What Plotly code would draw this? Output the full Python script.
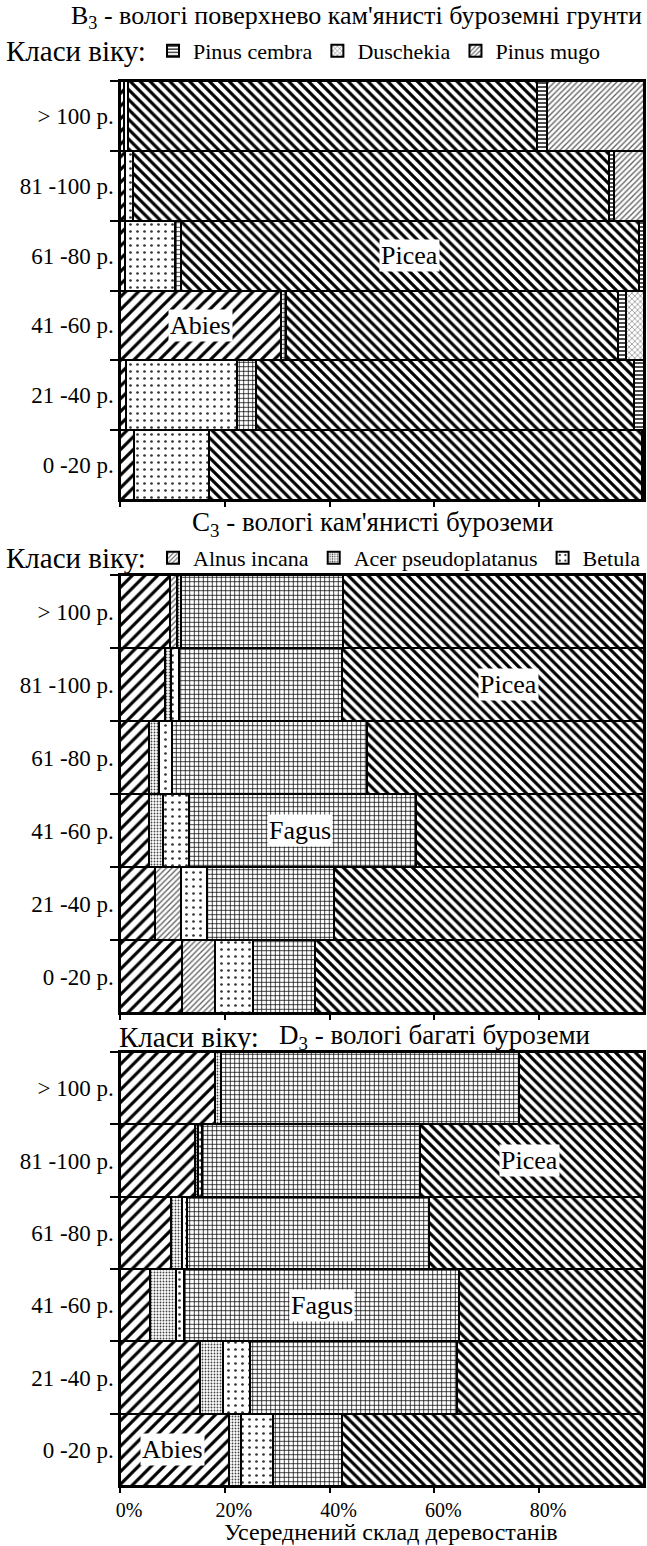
import plotly.graph_objects as go

# ---------------- data ----------------
age_classes = ["> 100 р.", "81 -100 р.", "61 -80 р.", "41 -60 р.", "21 -40 р.", "0 -20 р."]
species = ["Abies", "Alnus incana", "Acer pseudoplatanus", "Betula", "Fagus",
           "Picea", "Pinus cembra", "Duschekia", "Pinus mugo"]

# B3 panel (shares, %; rows follow age_classes)
b3_abies        = [0.8, 1.0, 1.0, 30.8, 1.2, 2.6]
b3_alnus        = [0, 0, 0, 0, 0, 0]
b3_acer         = [0, 0, 0, 0, 0, 0]
b3_betula       = [0.8, 1.5, 9.5, 0, 21.1, 14.3]
b3_fagus        = [0, 0, 1.1, 0.9, 3.6, 0]
b3_picea        = [78.0, 90.9, 87.5, 63.3, 72.1, 82.7]
b3_pinus_cembra = [1.8, 0.8, 0.9, 1.6, 2.0, 0.4]
b3_duschekia    = [0, 0, 0, 3.4, 0, 0]
b3_pinus_mugo   = [18.6, 5.8, 0, 0, 0, 0]

# C3 panel
c3_abies        = [9.6, 8.6, 5.5, 5.5, 6.6, 11.9]
c3_alnus        = [1.2, 0, 0, 0, 5.1, 6.2]
c3_acer         = [0.8, 1.2, 2.0, 2.7, 0, 0]
c3_betula       = [0, 1.4, 2.5, 4.9, 4.9, 7.3]
c3_fagus        = [30.9, 31.1, 37.2, 43.3, 24.3, 11.8]
c3_picea        = [57.5, 57.7, 52.8, 43.6, 59.1, 62.8]
c3_pinus_cembra = [0, 0, 0, 0, 0, 0]
c3_duschekia    = [0, 0, 0, 0, 0, 0]
c3_pinus_mugo   = [0, 0, 0, 0, 0, 0]

# D3 panel
d3_abies        = [18.1, 14.3, 9.7, 5.8, 15.3, 20.8]
d3_alnus        = [0, 0, 0, 0, 0, 0]
d3_acer         = [1.1, 0.5, 2.1, 4.9, 4.4, 2.2]
d3_betula       = [0, 0.8, 1.0, 1.6, 5.1, 6.2]
d3_fagus        = [56.9, 41.6, 46.2, 52.4, 39.5, 13.1]
d3_picea        = [23.9, 42.8, 41.0, 35.3, 35.7, 57.7]
d3_pinus_cembra = [0, 0, 0, 0, 0, 0]
d3_duschekia    = [0, 0, 0, 0, 0, 0]
d3_pinus_mugo   = [0, 0, 0, 0, 0, 0]

x_ticks = [0, 20, 40, 60, 80]
x_ticktext = ["0%", "20%", "40%", "60%", "80%"]

panel_titles = ["B<sub>3</sub> - вологі поверхнево кам'янисті буроземні грунти",
                "C<sub>3</sub> - вологі кам'янисті буроземи",
                "D<sub>3</sub> - вологі багаті буроземи"]
legend_title = "Класи віку:"
x_title = "Усереднений склад деревостанів"

# in-bar labels: (panel index, text, x value, age class)
label_panel = [0, 0, 1, 1, 2, 2, 2]
label_text = ["Picea", "Abies", "Picea", "Fagus", "Picea", "Fagus", "Abies"]
label_x = [55.3, 15.3, 74.2, 34.4, 78.2, 38.5, 10.1]
label_row = ["61 -80 р.", "41 -60 р.", "81 -100 р.", "41 -60 р.", "81 -100 р.", "41 -60 р.", "0 -20 р."]

# legend entries per panel
legend_species = [["Pinus cembra", "Duschekia", "Pinus mugo"],
                  ["Alnus incana", "Acer pseudoplatanus", "Betula"],
                  []]

panels = [
    [b3_abies, b3_alnus, b3_acer, b3_betula, b3_fagus, b3_picea, b3_pinus_cembra, b3_duschekia, b3_pinus_mugo],
    [c3_abies, c3_alnus, c3_acer, c3_betula, c3_fagus, c3_picea, c3_pinus_cembra, c3_duschekia, c3_pinus_mugo],
    [d3_abies, d3_alnus, d3_acer, d3_betula, d3_fagus, d3_picea, d3_pinus_cembra, d3_duschekia, d3_pinus_mugo],
]

# ---------------- styles ----------------
patterns = {
    "Abies": dict(shape="/", size=9, solidity=0.35, fgcolor="black"),
    "Alnus incana": dict(shape="/", size=4, solidity=0.35, fgcolor="#666666"),
    "Acer pseudoplatanus": dict(shape=".", size=3, solidity=0.3, fgcolor="#444444"),
    "Betula": dict(shape=".", size=7, solidity=0.12, fgcolor="#333333"),
    "Fagus": dict(shape="+", size=4.5, solidity=0.3, fgcolor="black"),
    "Picea": dict(shape="\\", size=7, solidity=0.45, fgcolor="black"),
    "Pinus cembra": dict(shape="-", size=4, solidity=0.35, fgcolor="black"),
    "Duschekia": dict(shape="x", size=4, solidity=0.2, fgcolor="#333333"),
    "Pinus mugo": dict(shape="/", size=4, solidity=0.35, fgcolor="#666666"),
}

SERIF = "Liberation Serif, Times New Roman, serif"

W, H = 647, 1546
ML, MR, MT, MB = 120, 3, 81, 60
ph = H - MT - MB
pw = W - ML - MR


def py(ypx):
    return 1 - (ypx - MT) / ph


def px(xpx):
    return (xpx - ML) / pw


panel_px = [(81, 500), (575, 1013), (1052, 1486)]

fig = go.Figure()
legend_names = ["legend", "legend2", None]

for pi, vals in enumerate(panels):
    ax = "" if pi == 0 else str(pi + 1)
    for si, sp in enumerate(species):
        if sum(vals[si]) == 0:
            continue
        show = sp in legend_species[pi]
        fig.add_trace(go.Bar(
            x=vals[si], y=age_classes, orientation="h", name=sp,
            xaxis="x" + ax, yaxis="y" + ax,
            marker=dict(color="white", line=dict(color="black", width=2),
                        pattern=dict(bgcolor="white", fillmode="replace", **patterns[sp])),
            showlegend=show,
            legend=legend_names[pi] if show else None,
        ))

layout = dict(
    width=W, height=H, barmode="stack", bargap=0,
    paper_bgcolor="white", plot_bgcolor="white",
    margin=dict(l=ML, r=MR, t=MT, b=MB, autoexpand=False),
    font=dict(family=SERIF, color="black", size=20),
)

for pi in range(3):
    ax = "" if pi == 0 else str(pi + 1)
    top, bot = panel_px[pi]
    layout["xaxis" + ax] = dict(
        domain=[0, 1], range=[0, 100], anchor="y" + ax,
        tickvals=x_ticks, ticktext=x_ticktext, ticks="outside", ticklen=5,
        tickcolor="black", tickwidth=1.5,
        showticklabels=(pi == 2), ticklabelshift=9, ticklabelstandoff=0,
        showline=True, linecolor="black", linewidth=1.5, mirror=True,
        showgrid=False, zeroline=False, automargin=False,
        tickfont=dict(family=SERIF, size=20),
    )
    layout["yaxis" + ax] = dict(
        domain=[py(bot), py(top)], anchor="x" + ax,
        type="category", categoryorder="array", categoryarray=age_classes,
        autorange="reversed", tickson="boundaries", ticks="outside", ticklen=8,
        tickcolor="black", tickwidth=1.5,
        showline=True, linecolor="black", linewidth=1.5, mirror=True,
        showgrid=False, zeroline=False, automargin=False,
        tickfont=dict(family=SERIF, size=23),
    )

annotations = []
for i in range(len(label_text)):
    ax = "" if label_panel[i] == 0 else str(label_panel[i] + 1)
    annotations.append(dict(
        x=label_x[i], y=label_row[i], xref="x" + ax, yref="y" + ax,
        text=label_text[i], showarrow=False, bgcolor="white", borderpad=1,
        font=dict(family=SERIF, size=26, color="black"),
    ))


def note(text, x, y, size, xanchor="center", yanchor="middle"):
    annotations.append(dict(x=px(x), y=py(y), xref="paper", yref="paper", text=text,
                            showarrow=False, xanchor=xanchor, yanchor=yanchor, borderpad=0,
                            font=dict(family=SERIF, size=size, color="black")))


note(panel_titles[0], 356, 17, 26)
note(legend_title, 5, 51, 29, "left")
note(panel_titles[1], 372, 524, 27)
note(legend_title, 5, 558, 29, "left")
note(legend_title, 118, 1037, 29, "left")
note(panel_titles[2], 278, 1037, 27, "left")
note(x_title, 391, 1546, 24, "center", "bottom")
layout["annotations"] = annotations

for li, ypx in [("legend", 51), ("legend2", 558)]:
    layout[li] = dict(
        x=px(153), y=py(ypx), xref="paper", yref="paper", xanchor="left", yanchor="middle",
        orientation="h", bgcolor="rgba(0,0,0,0)", borderwidth=0,
        font=dict(family=SERIF, size=22), itemwidth=30, traceorder="normal",
        tracegroupgap=0, itemclick=False, itemdoubleclick=False,
    )

fig.update_layout(**layout)
fig.write_html("out.html", config={"displayModeBar": False},
               post_script="document.body.style.margin='0px';")
